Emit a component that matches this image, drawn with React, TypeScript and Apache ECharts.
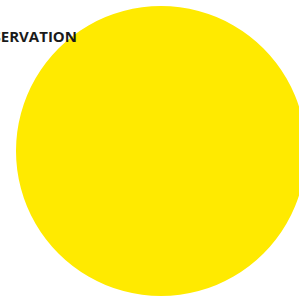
import React, { useEffect, useRef } from "react";
import * as echarts from "echarts";

const categories = ["CONSERVATION"];
const values = [100];
const colors = ["#ffea00"];
const titleText = "CONSERVATION";

export default function App() {
  const ref = useRef<HTMLDivElement>(null);
  useEffect(() => {
    if (!ref.current) return;
    const chart = echarts.init(ref.current, null, { renderer: "svg" });
    chart.setOption({
      animation: false,
      series: [
        {
          type: "pie",
          center: [161, 151],
          radius: 145,
          label: { show: false },
          labelLine: { show: false },
          silent: true,
          itemStyle: { borderWidth: 0 },
          data: categories.map((c, i) => ({
            name: c,
            value: values[i],
            itemStyle: { color: colors[i] },
          })),
        },
      ],
      graphic: [
        {
          type: "text",
          x: 77,
          y: 36,
          z: 100,
          style: {
            text: titleText,
            align: "right",
            verticalAlign: "middle",
            fontFamily: "Open Sans",
            fontWeight: "bold",
            fontSize: 15,
            fill: "#1a1a1a",
          },
        },
      ],
    });
    return () => chart.dispose();
  }, []);
  return (
    <div
      ref={ref}
      style={{ position: "absolute", left: 0, top: 0, width: 299, height: 297 }}
    />
  );
}
